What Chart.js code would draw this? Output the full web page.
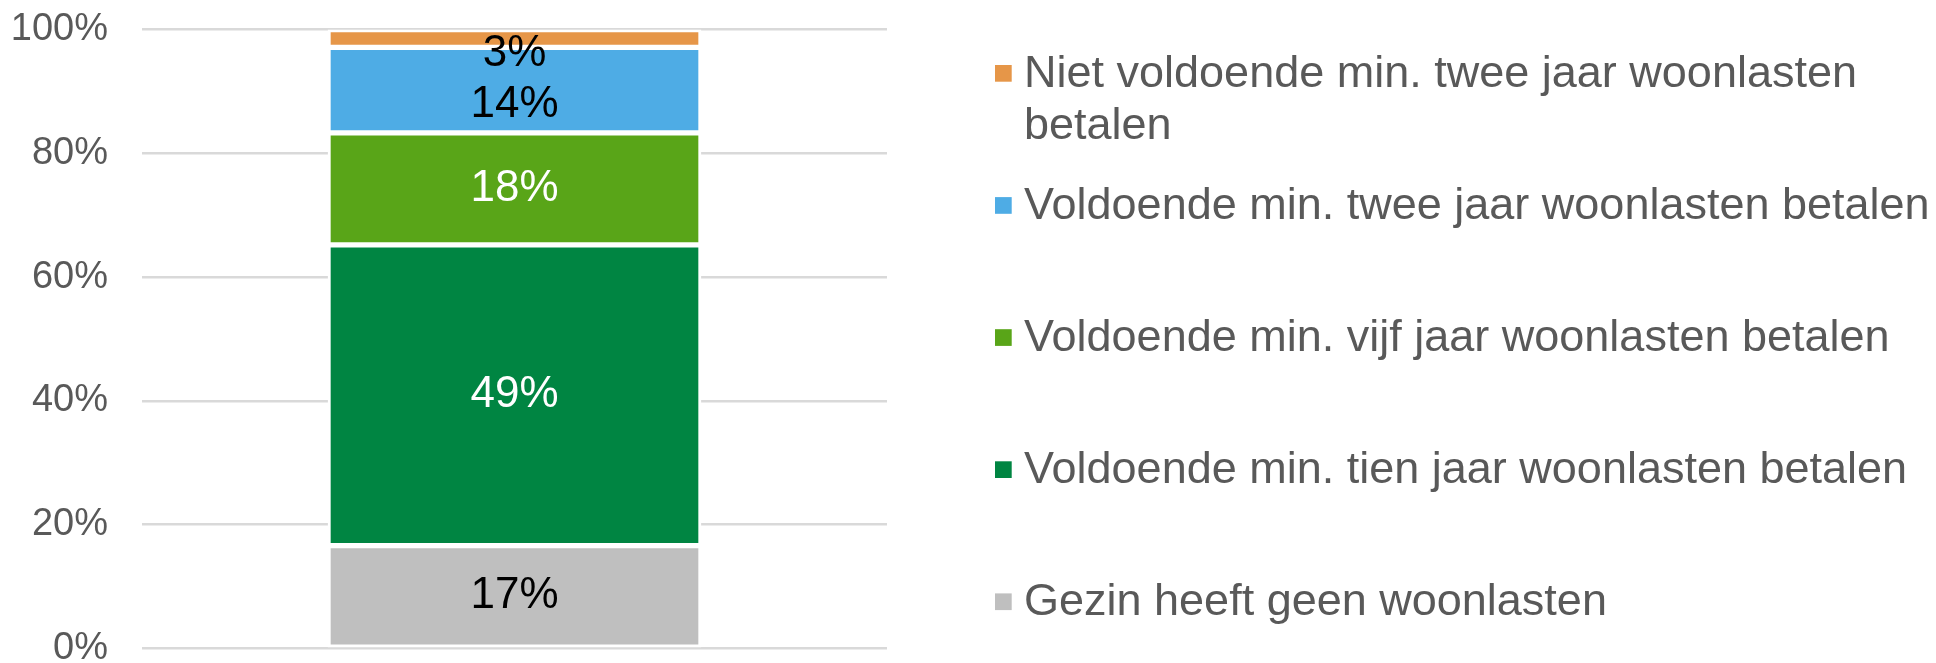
<!DOCTYPE html>
<html lang="nl">
<head>
<meta charset="utf-8">
<title>Woonlasten</title>
<script src="https://cdn.jsdelivr.net/npm/chart.js@4/dist/chart.umd.min.js"></script>
<style>
  html, body { margin: 0; padding: 0; background: #ffffff; }
  canvas { display: block; }
</style>
</head>
<body>
<canvas id="chart" width="1936" height="663"></canvas>
<script>
// Categories and series (shares in percent, bottom to top of the stack)
const categories = [''];
const seriesLabels = [
  'Gezin heeft geen woonlasten',
  'Voldoende min. tien jaar woonlasten betalen',
  'Voldoende min. vijf jaar woonlasten betalen',
  'Voldoende min. twee jaar woonlasten betalen',
  'Niet voldoende min. twee jaar woonlasten betalen'
];
const geenWoonlasten = [16.6];
const tienJaar = [48.6];
const vijfJaar = [18.1];
const tweeJaar = [13.8];
const nietTweeJaar = [2.9];
const yTicks = [0, 20, 40, 60, 80, 100];

const seriesValues = [geenWoonlasten, tienJaar, vijfJaar, tweeJaar, nietTweeJaar];
const seriesColors = ['#BFBFBF', '#008542', '#59A518', '#4EACE5', '#E69648'];
const labelColors = ['#000000', '#FFFFFF', '#FFFFFF', '#000000', '#000000'];
const labelShift = [0, 0, 0, 15, 15];

const FONT = '"Liberation Sans", Arial, sans-serif';
const TEXT_GREY = '#595959';

// Value labels centred in each stacked segment
const segmentLabels = {
  id: 'segmentLabels',
  afterDatasetsDraw(chart) {
    const ctx = chart.ctx;
    ctx.save();
    ctx.font = '44px ' + FONT;
    ctx.textAlign = 'center';
    ctx.textBaseline = 'middle';
    chart.data.datasets.forEach((ds, di) => {
      const meta = chart.getDatasetMeta(di);
      meta.data.forEach((bar, i) => {
        const c = bar.getCenterPoint();
        ctx.fillStyle = ds.labelColor;
        ctx.fillText(Math.round(ds.data[i]) + '%', c.x, c.y + (ds.labelShift || 0));
      });
    });
    ctx.restore();
  }
};

// Legend on the right: top item first, one equal slot per entry, long entries wrapped
const sideLegend = {
  id: 'sideLegend',
  afterDraw(chart) {
    const ctx = chart.ctx;
    const x0 = 995, textX = 1024, maxW = 915, lineH = 52.3, slot = 132.1, box = 16.7;
    ctx.save();
    ctx.font = '45px ' + FONT;
    ctx.textAlign = 'left';
    ctx.textBaseline = 'alphabetic';
    let baseline = 87;
    const sets = chart.data.datasets;
    for (let i = sets.length - 1; i >= 0; i--) {
      const ds = sets[i];
      const words = ds.label.split(' ');
      const lines = [];
      let cur = '';
      words.forEach(w => {
        const test = cur ? cur + ' ' + w : w;
        if (cur && ctx.measureText(test).width > maxW) { lines.push(cur); cur = w; }
        else cur = test;
      });
      if (cur) lines.push(cur);
      ctx.fillStyle = ds.backgroundColor;
      ctx.fillRect(x0, baseline - 22, box, box);
      ctx.fillStyle = TEXT_GREY;
      lines.forEach((ln, k) => ctx.fillText(ln, textX, baseline + k * lineH));
      baseline += slot;
    }
    ctx.restore();
  }
};

const datasets = seriesValues.map((vals, i) => ({
  label: seriesLabels[i],
  data: vals,
  backgroundColor: seriesColors[i],
  borderColor: '#FFFFFF',
  borderWidth: 3,
  borderSkipped: false,
  barThickness: 373,
  labelColor: labelColors[i],
  labelShift: labelShift[i]
}));

new Chart(document.getElementById('chart'), {
  type: 'bar',
  data: { labels: categories, datasets },
  options: {
    responsive: false,
    animation: false,
    layout: { padding: { top: 29.5, bottom: 14.7, left: 0, right: 1049 } },
    plugins: {
      legend: { display: false },
      tooltip: { enabled: false }
    },
    scales: {
      x: { stacked: true, display: false },
      y: {
        stacked: true,
        min: 0,
        max: 100,
        afterBuildTicks(scale) { scale.ticks = yTicks.map(v => ({ value: v })); },
        afterFit(scale) {
          scale.width = 142;
          scale.paddingTop = 0;
          scale.paddingBottom = 0;
        },
        border: { display: false },
        grid: { color: '#D9D9D9', lineWidth: 2.5, drawTicks: false },
        ticks: {
          padding: 34,
          color: TEXT_GREY,
          font: { family: FONT, size: 38 },
          callback: v => v + '%'
        }
      }
    }
  },
  plugins: [segmentLabels, sideLegend]
});
</script>
</body>
</html>
